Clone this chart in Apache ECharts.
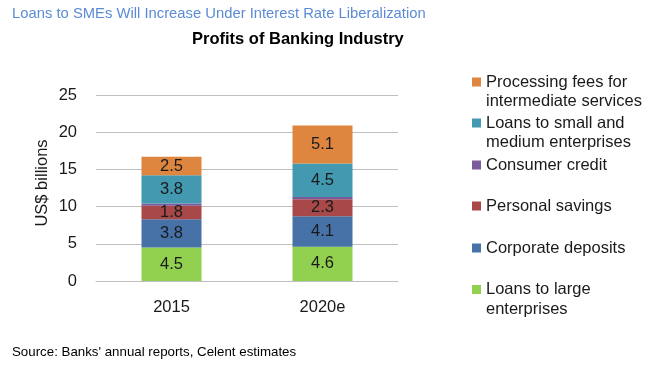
<!DOCTYPE html>
<html>
<head>
<meta charset="utf-8">
<script src="https://cdn.jsdelivr.net/npm/echarts@6/dist/echarts.min.js"></script>
<style>html,body{margin:0;padding:0;background:#fff}#c{width:658px;height:370px}</style>
</head>
<body>
<div id="c"></div>
<script>
const categories = ['2015', '2020e'];
const loansLarge = [4.5, 4.6];
const corporateDeposits = [3.8, 4.1];
const personalSavings = [1.8, 2.3];
const consumerCredit = [0.3, 0.3];
const loansSME = [3.8, 4.5];
const processingFees = [2.5, 5.1];
const yTicks = [0, 5, 10, 15, 20, 25];

const FONT = 'Liberation Sans, Arial, sans-serif';
const names = {
  fees: 'Processing fees for\nintermediate services',
  sme: 'Loans to small and\nmedium enterprises',
  consumer: 'Consumer credit',
  personal: 'Personal savings',
  corporate: 'Corporate deposits',
  large: 'Loans to large\nenterprises'
};
const colors = {
  large: '#92D050', corporate: '#4672A8', personal: '#A84848',
  consumer: '#7A5A9A', sme: '#4399B0', fees: '#DE8640'
};

function mkSeries(key, data, showLabel) {
  return {
    name: names[key], type: 'bar', stack: 'total', data: data,
    barWidth: 60, itemStyle: { color: colors[key] },
    label: { show: showLabel, position: 'inside', fontFamily: FONT, fontSize: 16.5, color: '#1a1a1a',
      formatter: p => p.value.toFixed(1) },
    emphasis: { disabled: true }
  };
}

const LH = 19.5;
function mkLegend(key, top, twoLine) {
  return {
    data: [names[key]], left: 472, top: top, padding: 0,
    itemWidth: 9, itemHeight: 9, itemGap: 0, icon: 'rect',
    selectedMode: false,
    formatter: twoLine ? (n => ' \n' + n) : (n => n),
    textStyle: { fontFamily: FONT, fontSize: 16.5, color: '#1a1a1a', lineHeight: LH }
  };
}

const chart = echarts.init(document.getElementById('c'), null, { renderer: 'canvas' });
chart.setOption({
  animation: false,
  backgroundColor: '#ffffff',
  title: [
    { text: 'Loans to SMEs Will Increase Under Interest Rate Liberalization', left: 12, top: 6, padding: 0,
      textStyle: { fontFamily: FONT, fontSize: 14.8, fontWeight: 'normal', color: '#5B8BD5' } },
    { text: 'Profits of Banking Industry', left: 192, top: 31, padding: 0,
      textStyle: { fontFamily: FONT, fontSize: 16.5, fontWeight: 'bold', color: '#000' } },
    { text: "Source: Banks' annual reports, Celent estimates", left: 12, top: 346, padding: 0,
      textStyle: { fontFamily: FONT, fontSize: 13.3, fontWeight: 'normal', color: '#000' } }
  ],
  legend: [
    mkLegend('fees', 82 - 1.5 * LH, true),
    mkLegend('sme', 123 - 1.5 * LH, true),
    mkLegend('consumer', 165 - LH / 2, false),
    mkLegend('personal', 206 - LH / 2, false),
    mkLegend('corporate', 248 - LH / 2, false),
    mkLegend('large', 289.5 - 1.5 * LH, true)
  ],
  grid: { left: 96, right: 260, top: 95, bottom: 89, containLabel: false },
  xAxis: {
    type: 'category', data: categories,
    axisLine: { show: true, lineStyle: { color: '#BFBFBF', width: 1 } },
    axisTick: { show: false },
    axisLabel: { fontFamily: FONT, fontSize: 16.5, color: '#1a1a1a', margin: 18 }
  },
  yAxis: {
    type: 'value', min: yTicks[0], max: yTicks[yTicks.length - 1], interval: 5,
    name: 'US$ billions', nameLocation: 'middle', nameRotate: 90, nameGap: 45,
    nameTextStyle: { fontFamily: FONT, fontSize: 16.5, color: '#1a1a1a', padding: [0, 0, 0, 10] },
    axisLine: { show: false }, axisTick: { show: false },
    axisLabel: { fontFamily: FONT, fontSize: 16.5, color: '#1a1a1a', margin: 19 },
    splitLine: { lineStyle: { color: '#BFBFBF', width: 1 } }
  },
  series: [
    mkSeries('large', loansLarge, true),
    mkSeries('corporate', corporateDeposits, true),
    mkSeries('personal', personalSavings, true),
    mkSeries('consumer', consumerCredit, false),
    mkSeries('sme', loansSME, true),
    mkSeries('fees', processingFees, true)
  ]
});
</script>
</body>
</html>
